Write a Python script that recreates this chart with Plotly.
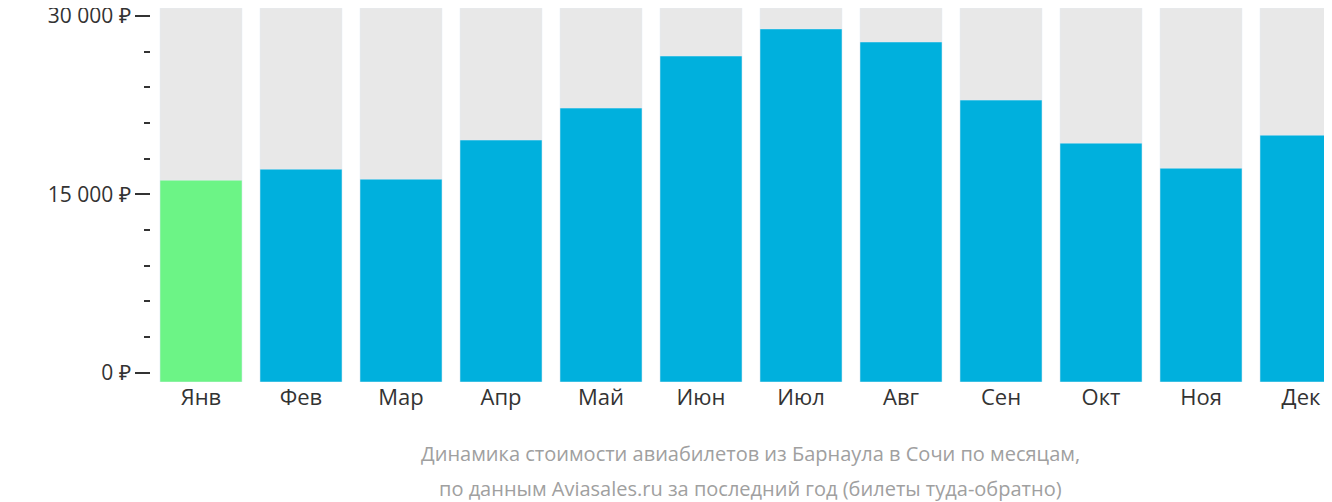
import plotly.graph_objects as go

months = ["Янв", "Фев", "Мар", "Апр", "Май", "Июн", "Июл", "Авг", "Сен", "Окт", "Ноя", "Дек"]
prices = [16180, 17110, 16270, 19560, 22250, 26630, 28910, 27810, 22920, 19300, 17190, 19970]
tick_vals = [0, 15000, 30000]
tick_text = ["0 ₽", "15 000 ₽", "30 000 ₽"]

y_bottom = -796
y_top = 30670
x = list(range(len(months)))
colors = ["#6cf486"] + ["#00b0dd"] * (len(months) - 1)

fig = go.Figure()
fig.add_trace(go.Bar(x=x, y=[y_top - y_bottom] * len(x), base=y_bottom,
                     marker_color="#e8e8e8", width=0.82, hoverinfo="skip"))
fig.add_trace(go.Bar(x=x, y=[p - y_bottom for p in prices], base=y_bottom,
                     marker_color=colors, width=0.82,
                     customdata=prices, hovertemplate="%{customdata} ₽<extra></extra>"))

fig.update_layout(
    width=1332, height=502, barmode="overlay", showlegend=False,
    plot_bgcolor="white", paper_bgcolor="white",
    margin=dict(l=143, r=0, t=0, b=128),
    font=dict(family="Open Sans", size=21, color="#333"),
    xaxis=dict(range=[-0.5, 11.39], tickvals=x, ticktext=months, showgrid=False,
               zeroline=False, ticks="", tickfont=dict(size=22), automargin=False),
    yaxis=dict(range=[y_bottom, y_top], tickvals=tick_vals, ticktext=tick_text,
               showgrid=False, zeroline=False, ticks="outside", ticklen=15,
               tickcolor="#333", tickwidth=2, tickfont=dict(size=21),
               automargin=False, ticklabeloverflow="allow",
               minor=dict(dtick=3000, tick0=0, ticks="outside", ticklen=6,
                          tickcolor="#333", tickwidth=2)),
)
for txt, ypx in [("Динамика стоимости авиабилетов из Барнаула в Сочи по месяцам,", 445),
                 ("по данным Aviasales.ru за последний год (билеты туда-обратно)", 480)]:
    fig.add_annotation(text=txt, xref="paper", yref="paper",
                       x=(742 - 143) / (1332 - 143), y=(374 - ypx) / 374,
                       showarrow=False, font=dict(size=20, color="#a0a0a0"),
                       xanchor="center", yanchor="middle")

fig.write_html("out.html")
